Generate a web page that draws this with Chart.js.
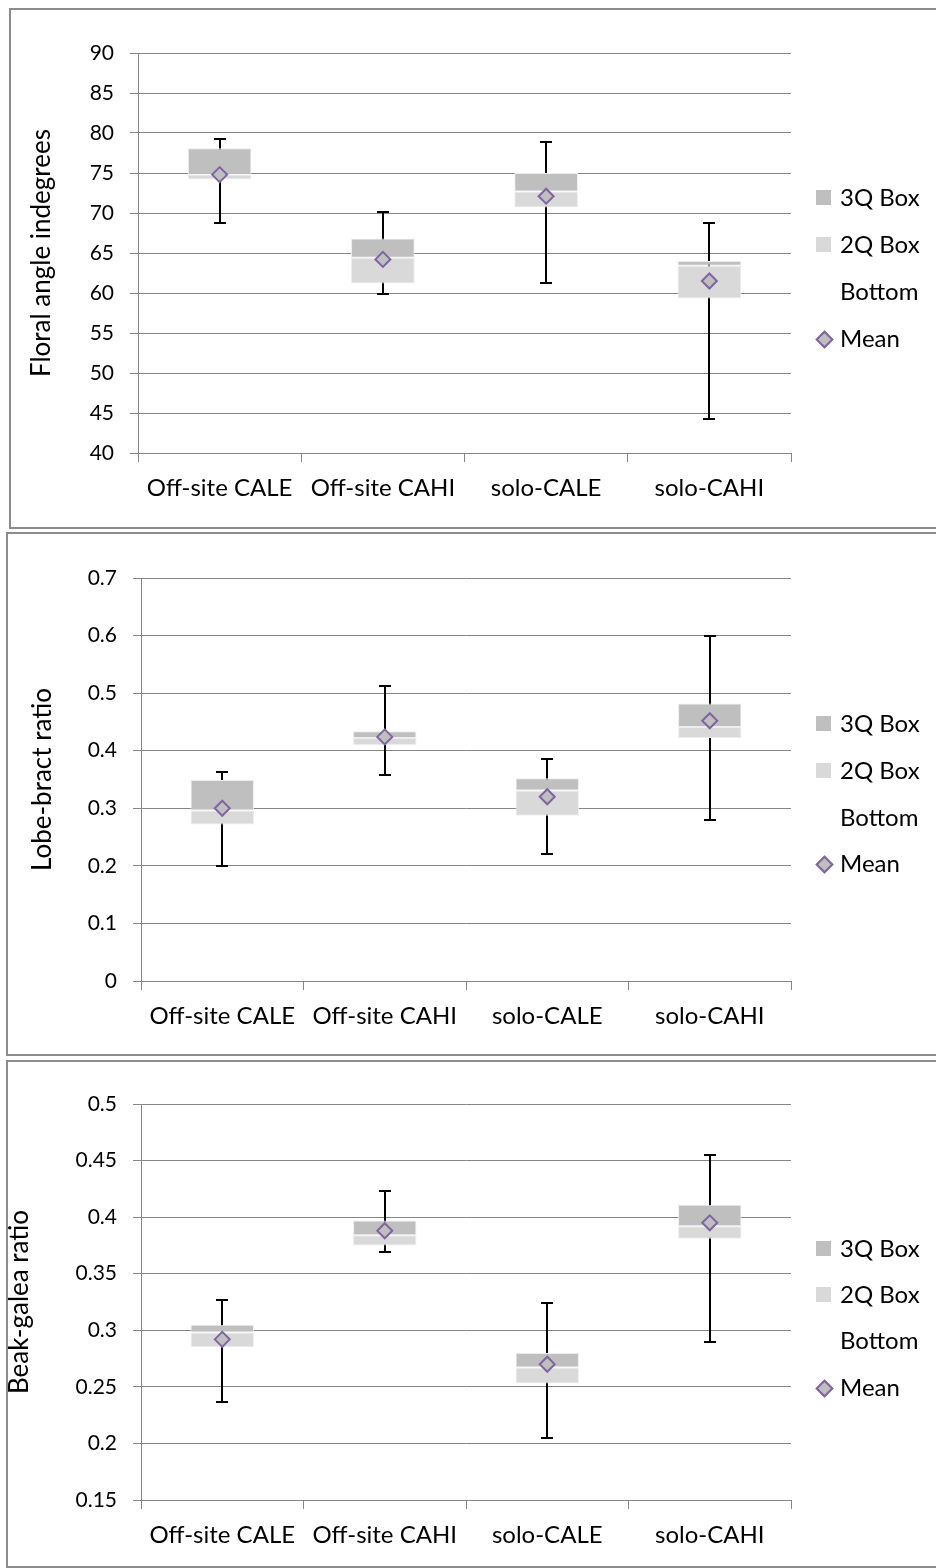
<!DOCTYPE html>
<html><head><meta charset="utf-8">
<script src="https://cdn.jsdelivr.net/npm/chart.js@4/dist/chart.umd.min.js"></script>
<style>
body{margin:0;width:936px;height:1568px;overflow:hidden;background:#fff;font-family:Lato,sans-serif;position:relative}
.frame{position:absolute;border:2px solid #8c8c8c;box-sizing:border-box}
canvas{position:absolute;left:0}
.li{position:absolute;left:816px;height:28px;line-height:28px;white-space:nowrap;font-size:24px;color:#000}
.li .sw{position:absolute;left:0;top:7px;width:15px;height:15px}
.li .tx{position:absolute;left:24px;top:0}
.li .dm{position:absolute;left:2px;top:9px;width:9px;height:9px;transform:rotate(45deg);border:2px solid #8064A2;background:#BFBFBF}
</style>
</head><body>
<div class="frame" style="left:9px;top:8px;width:940px;height:521px"></div>
<div class="frame" style="left:6px;top:532px;width:940px;height:524px"></div>
<div class="frame" style="left:6px;top:1060px;width:940px;height:508px"></div>
<canvas id="c1" width="936" height="519" style="top:9px"></canvas>
<canvas id="c2" width="936" height="521" style="top:534px"></canvas>
<canvas id="c3" width="936" height="504" style="top:1062px"></canvas>
<div id="legends"></div>
<script>
const categories = ['Off-site CALE', 'Off-site CAHI', 'solo-CALE', 'solo-CAHI'];
const legendLabels = ['3Q Box', '2Q Box', 'Bottom', 'Mean'];

// Panel 1: Floral angle in degrees
const angleQ1     = [74.2, 61.2, 70.7, 59.3];
const angleMedian = [74.8, 64.4, 72.7, 63.4];
const angleQ3     = [78.1, 66.8, 75.0, 64.0];
const angleMin    = [68.7, 59.9, 61.2, 44.3];
const angleMax    = [79.3, 70.1, 78.9, 68.7];
const angleMean   = [74.8, 64.2, 72.1, 61.5];
const angleTicks  = [40, 45, 50, 55, 60, 65, 70, 75, 80, 85, 90];

// Panel 2: Lobe-bract ratio
const lobeQ1     = [0.272, 0.410, 0.287, 0.422];
const lobeMedian = [0.296, 0.422, 0.331, 0.441];
const lobeQ3     = [0.349, 0.434, 0.352, 0.482];
const lobeMin    = [0.200, 0.358, 0.220, 0.280];
const lobeMax    = [0.363, 0.512, 0.386, 0.600];
const lobeMean   = [0.300, 0.424, 0.320, 0.452];
const lobeTicks  = [0, 0.1, 0.2, 0.3, 0.4, 0.5, 0.6, 0.7];

// Panel 3: Beak-galea ratio
const beakQ1     = [0.285, 0.375, 0.253, 0.381];
const beakMedian = [0.298, 0.384, 0.267, 0.392];
const beakQ3     = [0.305, 0.397, 0.280, 0.411];
const beakMin    = [0.237, 0.369, 0.205, 0.290];
const beakMax    = [0.327, 0.423, 0.324, 0.455];
const beakMean   = [0.292, 0.388, 0.270, 0.395];
const beakTicks  = [0.15, 0.2, 0.25, 0.3, 0.35, 0.4, 0.45, 0.5];

const FONT = 'Lato';
const GRID = '#868686';

const whiskerPlugin = {
  id: 'whiskers',
  beforeDatasetsDraw(chart, args, opts) {
    const ctx = chart.ctx, x = chart.scales.x, y = chart.scales.y;
    ctx.save();
    ctx.strokeStyle = '#000';
    ctx.lineWidth = 2;
    opts.lo.forEach((v, i) => {
      const px = Math.round(x.getPixelForValue(i));
      const y1 = Math.round(y.getPixelForValue(opts.hi[i]));
      const y2 = Math.round(y.getPixelForValue(v));
      ctx.beginPath();
      ctx.moveTo(px, y1); ctx.lineTo(px, y2);
      ctx.moveTo(px - 6, y1); ctx.lineTo(px + 6, y1);
      ctx.moveTo(px - 6, y2); ctx.lineTo(px + 6, y2);
      ctx.stroke();
    });
    ctx.restore();
  }
};

function fmt(v) { return String(Number(Number(v).toFixed(3))); }

function makeChart(id, p) {
  const box2 = p.median.map((m, i) => m - p.q1[i]);
  const box3 = p.q3.map((q, i) => q - p.median[i]);
  new Chart(document.getElementById(id), {
    type: 'bar',
    data: {
      labels: categories,
      datasets: [
        { type: 'line', label: legendLabels[3], data: p.mean, showLine: false, stack: 'mean',
          pointStyle: 'rectRot', pointRadius: 7.5, pointBorderWidth: 2,
          pointBorderColor: '#8064A2', pointBackgroundColor: '#BFBFBF', order: -1 },
        { label: legendLabels[2], data: p.q1, backgroundColor: 'rgba(0,0,0,0)', stack: 's' },
        { label: legendLabels[1], data: box2, backgroundColor: '#D9D9D9', stack: 's',
          borderColor: '#EDEDED', borderWidth: 1, borderSkipped: false },
        { label: legendLabels[0], data: box3, backgroundColor: '#BFBFBF', stack: 's',
          borderColor: '#EDEDED', borderWidth: 1, borderSkipped: false }
      ]
    },
    options: {
      responsive: false, animation: false, devicePixelRatio: 1, events: [],
      layout: { padding: { top: p.top, right: 936 - p.right, left: 0, bottom: 0 } },
      plugins: { legend: { display: false }, tooltip: { enabled: false },
        whiskers: { lo: p.min, hi: p.max } },
      datasets: { bar: { categoryPercentage: 1, barPercentage: 0.39 } },
      scales: {
        x: {
          stacked: true, offset: true,
          grid: { display: true, drawOnChartArea: false, drawTicks: true, tickLength: 9, color: GRID, offset: true },
          border: { display: true, color: GRID, width: 1 },
          ticks: { color: '#000', font: { family: FONT, size: 24 }, padding: 12, maxRotation: 0, autoSkip: false },
          afterFit(s) { s.height = p.xh; }
        },
        y: {
          stacked: true, min: p.ticks[0], max: p.ticks[p.ticks.length - 1],
          afterBuildTicks(s) { s.ticks = p.ticks.map(v => ({ value: v })); },
          grid: { color: GRID, tickLength: 8, lineWidth: 1 },
          border: { display: true, color: GRID, width: 1 },
          ticks: { color: '#000', font: { family: FONT, size: 21 }, padding: 16, callback: v => fmt(v) },
          title: { display: true, text: p.title, color: '#000', font: { family: FONT, size: 26 }, padding: { top: p.titlePad, bottom: 0 } },
          afterFit(s) { s.width = p.left; }
        }
      }
    },
    plugins: [whiskerPlugin]
  });
}

makeChart('c1', { q1: angleQ1, median: angleMedian, q3: angleQ3, min: angleMin, max: angleMax, mean: angleMean,
  ticks: angleTicks, title: 'Floral angle indegrees', top: 44, right: 791, left: 138, xh: 75, titlePad: 26 });
makeChart('c2', { q1: lobeQ1, median: lobeMedian, q3: lobeQ3, min: lobeMin, max: lobeMax, mean: lobeMean,
  ticks: lobeTicks, title: 'Lobe-bract ratio', top: 44, right: 791, left: 141, xh: 74, titlePad: 27 });
makeChart('c3', { q1: beakQ1, median: beakMedian, q3: beakQ3, min: beakMin, max: beakMax, mean: beakMean,
  ticks: beakTicks, title: 'Beak-galea ratio', top: 42, right: 791, left: 141, xh: 66, titlePad: 4 });

// HTML legends
const legendCenters = [[197, 244, 291, 338], [723, 770, 817, 863], [1248, 1294, 1340, 1387]];
const swatch = ['#BFBFBF', '#D9D9D9', null, 'mean'];
const lg = document.getElementById('legends');
legendCenters.forEach(cs => {
  cs.forEach((cy, k) => {
    const d = document.createElement('div');
    d.className = 'li';
    d.style.top = (cy - 14) + 'px';
    let mk = '';
    if (swatch[k] === 'mean') mk = '<span class="dm"></span>';
    else if (swatch[k]) mk = '<span class="sw" style="background:' + swatch[k] + '"></span>';
    d.innerHTML = mk + '<span class="tx">' + legendLabels[k] + '</span>';
    lg.appendChild(d);
  });
});
</script>
</body></html>
